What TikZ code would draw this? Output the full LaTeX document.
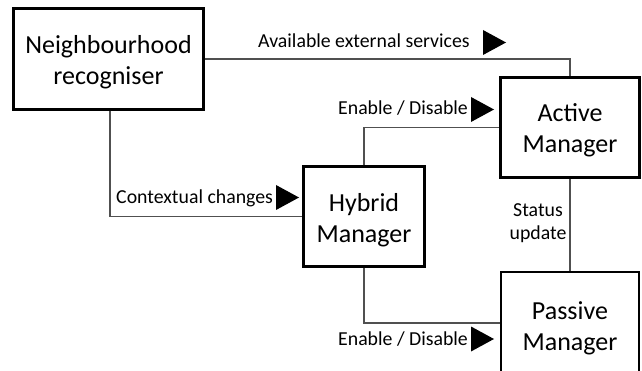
\documentclass[tikz,border=0pt]{standalone}
\usepackage{fontspec}
\setmainfont{Carlito}
\definecolor{linkgray}{HTML}{505050}
\tikzset{
  box/.style={draw=black, line width=2.2pt, inner sep=0pt},
  boxtext/.style={inner sep=0pt, align=center, font=\fontsize{26}{31}\selectfont},
  link/.style={draw=linkgray, line width=1.2pt},
  lbl/.style={inner sep=0pt, font=\fontsize{19.8}{23}\selectfont},
  tri/.pic={\fill[black] (0,-12.5) -- (23,0) -- (0,12.5) -- cycle;}
}
\begin{document}
\begin{tikzpicture}[x=1pt, y=-1pt]
  \path[use as bounding box, clip] (0,0) rectangle (642,371);
  \fill[white] (0,0) rectangle (642,371);

  % components
  \node[box, minimum width=190pt, minimum height=101pt] (nb) at (108.5,59) {};
  \node[box, minimum width=139pt, minimum height=100pt] (act) at (570,127.5) {};
  \node[box, minimum width=121pt, minimum height=100pt] (hyb) at (364,216.5) {};
  \node[box, minimum width=138pt, minimum height=105pt] (pas) at (570,324.5) {};

  % component names
  \node[boxtext] (nbname) at ([yshift=-3pt]nb.center) {Neighbourhood\\recogniser};
  \node[boxtext] (actname) at ([yshift=-3pt]act.center) {Active\\Manager};
  \node[boxtext] (hybname) at ([yshift=-3.5pt]hyb.center) {Hybrid\\Manager};
  \node[boxtext] (pasname) at ([yshift=-3.5pt]pas.center) {Passive\\Manager};

  % connectors
  \draw[link] (nb.east) -| (act.north);
  \draw[link] ([xshift=1.5pt]nb.south) |- (hyb.west);
  \draw[link] (hyb.north) |- (act.west);
  \draw[link] (act.south) -- (pas.north);
  \draw[link] (hyb.south) |- ([yshift=1.5pt]pas.west);

  % labels with direction markers
  \node[lbl, anchor=base west] (lservices) at (258,48) {Available external services};
  \pic at (483,42.5) {tri};
  \node[lbl, anchor=base west] (lenabletop) at (338,115) {Enable / Disable};
  \pic at (471,109.5) {tri};
  \node[lbl, anchor=base west] (lcontext) at (116,204) {Contextual changes};
  \pic at (276,197.5) {tri};
  \node[lbl, anchor=base west] (lenablebot) at (338,345) {Enable / Disable};
  \pic at (471,339) {tri};
  \node[lbl, align=center] (lstatus) at (538,223) {Status\\update};
\end{tikzpicture}
\end{document}
